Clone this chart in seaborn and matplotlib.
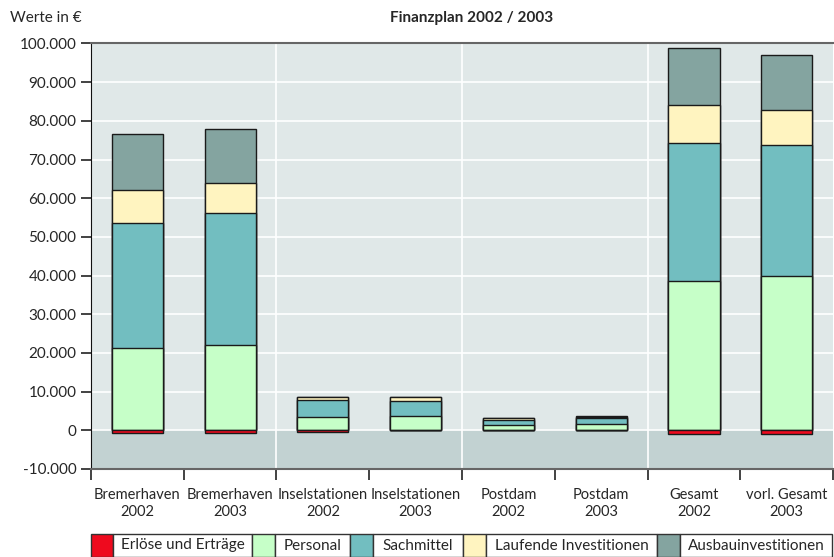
import matplotlib.pyplot as plt
import matplotlib.patches as mpatches
import numpy as np
import seaborn as sns

# data (values in EUR)
categories = ["Bremerhaven\n2002", "Bremerhaven\n2003", "Inselstationen\n2002", "Inselstationen\n2003",
              "Postdam\n2002", "Postdam\n2003", "Gesamt\n2002", "vorl. Gesamt\n2003"]
erloese = [-800, -700, -400, 0, 0, 0, -900, -900]
personal = [21300, 22000, 3500, 3600, 1400, 1600, 38500, 39800]
sachmittel = [32400, 34300, 4300, 4100, 1200, 1700, 35800, 34000]
laufende = [8500, 7700, 900, 1000, 600, 100, 9800, 9100]
ausbau = [14500, 14000, 0, 0, 0, 300, 14600, 14100]

series_names = ["Erlöse und Erträge", "Personal", "Sachmittel", "Laufende Investitionen", "Ausbauinvestitionen"]
colors = ["#ee0a1e", "#c6ffc8", "#72bec0", "#fff4c0", "#84a4a0"]
y_ticks = [-10000, 0, 10000, 20000, 30000, 40000, 50000, 60000, 70000, 80000, 90000, 100000]

sns.set_style("ticks")
plt.rcParams["font.family"] = ["Lato", "DejaVu Sans"]

fig = plt.figure(figsize=(8.34, 5.57), dpi=100)
ax = fig.add_axes([0.109, 0.158, 0.89, 0.764])

# background bands
ax.axhspan(0, 100000, color="#e0e8e8", zorder=0)
ax.axhspan(-10000, 0, color="#c2d2d2", zorder=0)
for t in y_ticks[1:-1]:
    ax.axhline(t, color="white", lw=1.2, zorder=0.5)
for xv in [1.5, 3.5, 5.5]:
    ax.axvline(xv, color="white", lw=1.2, zorder=0.5)

# stacked bars: draw cumulative totals from the top layer down
stack = [personal, sachmittel, laufende, ausbau]
cum = np.cumsum(np.array(stack), axis=0)
for i in range(len(stack) - 1, -1, -1):
    sns.barplot(x=categories, y=cum[i], color=colors[i + 1], width=0.55, saturation=1,
                edgecolor="#1a1a1a", linewidth=1, ax=ax, zorder=2)
sns.barplot(x=categories, y=erloese, color=colors[0], width=0.55, saturation=1,
            edgecolor="#1a1a1a", linewidth=1, ax=ax, zorder=2)

ax.set_ylim(-10000, 100000)
ax.set_xlim(-0.5, 7.5)
ax.set_yticks(y_ticks)
ax.set_yticklabels([f"{v:,}".replace(",", ".") for v in y_ticks], fontsize=11)
ax.set_xticks(range(len(categories)))
ax.set_xticklabels(categories, fontsize=10.5, linespacing=1.2)
ax.set_xticks(np.arange(-0.5, 8, 1), minor=True)
ax.tick_params(axis="x", which="major", length=0, pad=14)
ax.tick_params(axis="x", which="minor", length=8, width=1.2, color="#222222")
ax.tick_params(axis="y", length=7, width=1.2, color="#222222")
ax.set_xlabel("")
ax.set_ylabel("")
for s in ["top", "bottom"]:
    ax.spines[s].set_color("#666666")
    ax.spines[s].set_linewidth(1.5)
ax.spines["left"].set_color("#111111")
ax.spines["right"].set_visible(False)

fig.text(0.012, 0.968, "Werte in €", fontsize=11, va="center")
fig.text(0.565, 0.968, "Finanzplan 2002 / 2003", fontsize=11, fontweight="bold", ha="center", va="center")

# legend as a row of boxed cells
cells = [(91, 113, 252), (252, 275, 350), (350, 373, 463), (463, 486, 657), (657, 680, 832)]
y0, y1 = 534, 557
for (xa, xb, xc), name, col in zip(cells, series_names, colors):
    fig.patches.append(mpatches.Rectangle((xa / 834, 1 - y1 / 557), (xb - xa) / 834, (y1 - y0) / 557,
                                          transform=fig.transFigure, facecolor=col, edgecolor="#333333", lw=1))
    fig.patches.append(mpatches.Rectangle((xb / 834, 1 - y1 / 557), (xc - xb) / 834, (y1 - y0) / 557,
                                          transform=fig.transFigure, facecolor="white", edgecolor="#333333", lw=1))
    fig.text((xb + xc) / 2 / 834, 1 - (y0 + y1) / 2 / 557, name, ha="center", va="center", fontsize=11)

fig.savefig("out.png", dpi=100)
